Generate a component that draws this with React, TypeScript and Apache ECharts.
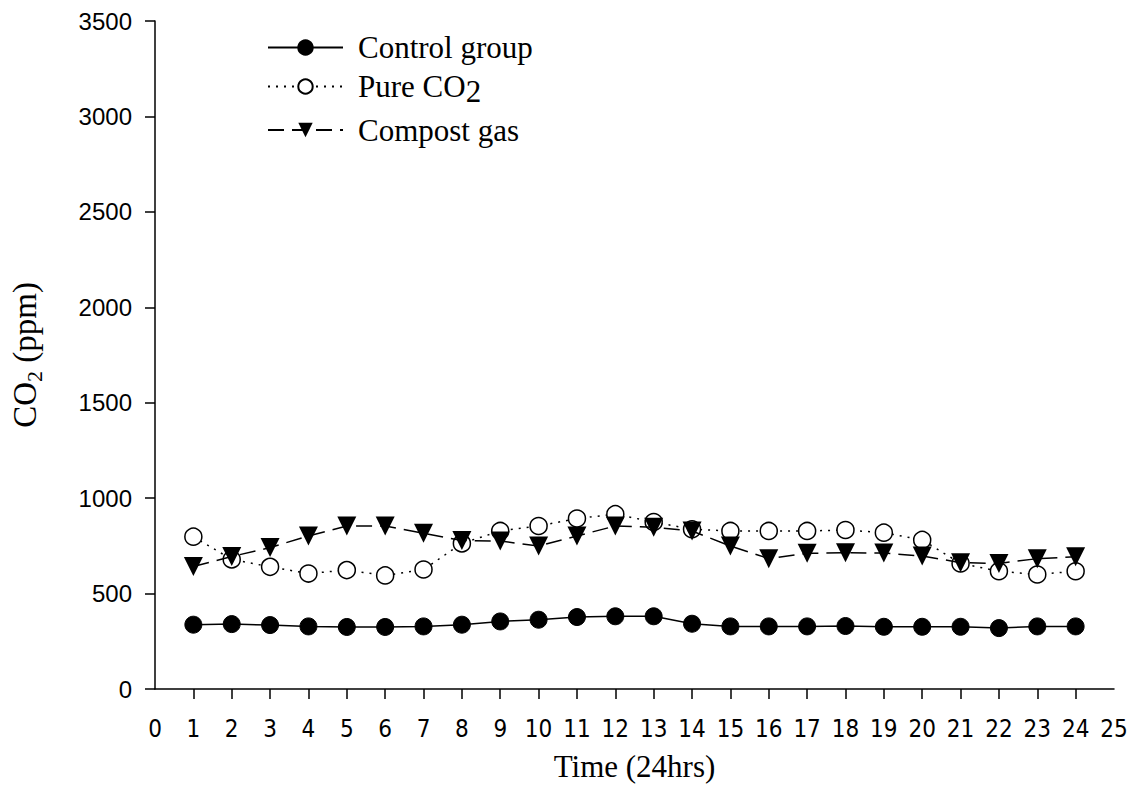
import React, { useEffect, useRef } from "react";
import * as echarts from "echarts";

const hours = [1, 2, 3, 4, 5, 6, 7, 8, 9, 10, 11, 12, 13, 14, 15, 16, 17, 18, 19, 20, 21, 22, 23, 24];
const controlGroup = [337, 340, 335, 328, 325, 325, 328, 337, 354, 363, 377, 381, 381, 342, 328, 328, 328, 330, 326, 326, 326, 319, 328, 328];
const pureCO2 = [798, 679, 640, 605, 623, 595, 626, 763, 828, 854, 893, 916, 875, 837, 828, 828, 828, 833, 819, 781, 658, 617, 600, 617];
const compostGas = [642, 694, 741, 802, 854, 854, 816, 778, 775, 749, 802, 854, 847, 828, 749, 683, 711, 714, 712, 697, 662, 658, 683, 693];
const seriesNames = ["Control group", "Pure CO2", "Compost gas"];

const serif = "'Liberation Serif', 'Times New Roman', serif";
const sans = "'Liberation Sans', Arial, sans-serif";
const narrow = "'Liberation Sans Narrow', 'Arial Narrow', 'DejaVu Sans Condensed', sans-serif";

const pairs = (vals: number[]) => hours.map((h, i) => [h, vals[i]]);

export default function App() {
  const ref = useRef<HTMLDivElement>(null);
  useEffect(() => {
    if (!ref.current) return;
    const chart = echarts.init(ref.current, null, { renderer: "svg" });
    chart.setOption({
      animation: false,
      backgroundColor: "#ffffff",
      grid: { left: 155, right: 20, top: 21, bottom: 113 },
      legend: {
        orient: "vertical",
        left: 262,
        top: 27,
        itemWidth: 75,
        itemHeight: 18,
        itemGap: 8,
        selectedMode: false,
        data: seriesNames,
        formatter: (name: string) =>
          name === "Pure CO2" ? "{n|Pure CO}{s|2}" : "{n|" + name + "}",
        textStyle: {
          color: "#000",
          fontFamily: serif,
          fontSize: 31,
          padding: [0, 0, 0, 10],
          rich: {
            n: { fontFamily: serif, fontSize: 31, lineHeight: 40, verticalAlign: "middle", color: "#000" },
            s: { fontFamily: serif, fontSize: 31, lineHeight: 40, verticalAlign: "bottom", color: "#000" },
          },
        },
      },
      xAxis: {
        type: "value",
        min: 0,
        max: 25,
        interval: 1,
        name: "Time (24hrs)",
        nameLocation: "middle",
        nameGap: 62,
        nameTextStyle: { fontFamily: serif, fontSize: 31, color: "#000" },
        axisLine: { show: true, onZero: false, lineStyle: { color: "#000", width: 1.5 } },
        axisTick: { show: true, inside: false, length: 10, customValues: hours, lineStyle: { color: "#000", width: 1.5 } },
        axisLabel: { fontFamily: narrow, fontSize: 24, color: "#000", margin: 28 },
        splitLine: { show: false },
      },
      yAxis: {
        type: "value",
        min: 0,
        max: 3500,
        interval: 500,
        name: "{a|CO}{b|2}{a| (ppm)}",
        nameLocation: "middle",
        nameGap: 110,
        nameRotate: 90,
        nameTextStyle: {
          fontFamily: serif,
          fontSize: 33,
          color: "#000",
          rich: {
            a: { fontFamily: serif, fontSize: 33, color: "#000", verticalAlign: "middle", lineHeight: 40 },
            b: { fontFamily: serif, fontSize: 22, color: "#000", verticalAlign: "bottom", lineHeight: 40 },
          },
        },
        axisLine: { show: true, lineStyle: { color: "#000", width: 1.5 } },
        axisTick: { show: true, inside: false, length: 10, lineStyle: { color: "#000", width: 1.5 } },
        axisLabel: {
          fontFamily: sans,
          fontSize: 24,
          color: "#000",
          margin: 23,
          formatter: (v: number) => String(v),
        },
        splitLine: { show: false },
      },
      series: [
        {
          name: seriesNames[0],
          type: "line",
          data: pairs(controlGroup),
          symbol: "circle",
          symbolSize: 17,
          itemStyle: { color: "#000", borderColor: "#000", borderWidth: 1 },
          lineStyle: { color: "#000", width: 1.5, type: "solid" },
          z: 3,
        },
        {
          name: seriesNames[1],
          type: "line",
          data: pairs(pureCO2),
          symbol: "circle",
          symbolSize: 17,
          itemStyle: { color: "#fff", borderColor: "#000", borderWidth: 1.5 },
          lineStyle: { color: "#000", width: 1.5, type: [2, 6] },
          z: 2,
        },
        {
          name: seriesNames[2],
          type: "line",
          data: pairs(compostGas),
          symbol: "triangle",
          symbolRotate: 180,
          symbolSize: 19,
          itemStyle: { color: "#000", borderColor: "#000", borderWidth: 0 },
          lineStyle: { color: "#000", width: 1.5, type: [16, 8] },
          z: 4,
        },
      ],
    });
    return () => chart.dispose();
  }, []);
  return (
    <div
      ref={ref}
      style={{ position: "fixed", left: 0, top: 0, width: 1134, height: 802, background: "#fff" }}
    />
  );
}
